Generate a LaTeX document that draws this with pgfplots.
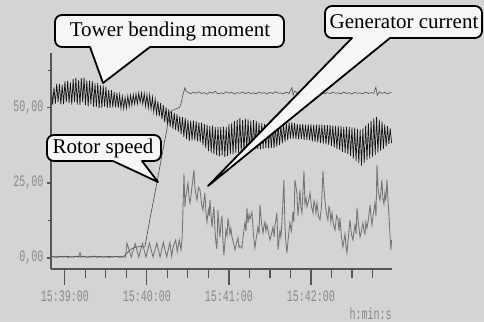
\documentclass[border=0pt]{standalone}
\usepackage{pgfplots}
\pgfplotsset{compat=1.18}
\usepackage{graphicx}
\usepackage{fontspec}
\setmainfont{Liberation Serif}
\newfontfamily\monofont{Liberation Mono}
\definecolor{bg}{HTML}{D4D4D4}
\definecolor{axc}{HTML}{555555}
\definecolor{labc}{HTML}{8A8A8A}
\definecolor{gen}{HTML}{747474}
\definecolor{rot}{HTML}{4E4E4E}
\definecolor{tow}{HTML}{151515}
\definecolor{callfill}{HTML}{F6F6F6}
\newcommand{\tl}[1]{\scalebox{1}[1.6]{#1}}
\begin{document}
\begin{tikzpicture}
\path[use as bounding box] (0,0) rectangle (484pt,322pt);
\fill[bg] (0,0) rectangle (484pt,322pt);
\begin{axis}[
  at={(51pt,53pt)}, anchor=south west,
  scale only axis, width=341pt, height=216pt,
  xmin=-10.2, xmax=239.3, ymin=-3.67, ymax=68.3,
  axis x line=bottom, axis y line=left,
  axis line style={-, draw=axc, line width=1.1pt},
  tick align=outside,
  xtick={0,60,120,180},
  xticklabels={\tl{15:39:00},\tl{15:40:00},\tl{15:41:00},\tl{15:42:00}},
  minor xtick={15,30,45,75,90,105,135,150,165,195,210,225},
  ytick=\empty,
  major tick length=16pt, minor tick length=9pt,
  tick style={draw=axc, line width=1.1pt},
  xticklabel style={font=\monofont\fontsize{10}{12}\selectfont, text=labc, yshift=-2pt},
  clip=false,
]
% Tower bending moment
\addplot[tow, line width=0.7pt] coordinates {
(-10,57.3) (-9,51.1) (-8,56.8) (-7,51.4) (-6,58.1) (-5,51.9) (-4,58.0) (-3,51.2) (-2,57.6) (-1,51.3)
(0,58.8) (1,51.9) (2,59.1) (3,51.5) (4,58.4) (5,51.1) (6,59.6) (7,51.9) (8,60.0) (9,51.1)
(10,59.2) (11,51.0) (12,59.9) (13,51.9) (14,60.1) (15,50.9) (16,59.1) (17,50.5) (18,59.1) (19,51.2)
(20,59.0) (21,50.3) (22,58.2) (23,50.4) (24,58.3) (25,49.9) (26,57.5) (27,50.1) (28,57.5) (29,50.4)
(30,57.0) (31,50.0) (32,56.0) (33,50.0) (34,55.9) (35,50.2) (36,55.3) (37,50.2) (38,55.0) (39,50.0)
(40,54.4) (41,49.9) (42,53.8) (43,49.8) (44,53.5) (45,50.0) (46,54.0) (47,50.5) (48,54.2) (49,50.9)
(50,54.4) (51,51.3) (52,54.6) (53,51.4) (54,54.9) (55,51.8) (56,55.0) (57,51.3) (58,54.8) (59,50.6)
(60,54.4) (61,50.1) (62,54.3) (63,49.6) (64,53.6) (65,48.7) (66,52.9) (67,48.0) (68,52.2) (69,47.2)
(70,51.6) (71,46.2) (72,50.9) (73,45.3) (74,50.2) (75,44.4) (76,49.5) (77,43.7) (78,48.8) (79,43.1)
(80,48.3) (81,42.7) (82,47.9) (83,42.1) (84,47.2) (85,41.3) (86,46.9) (87,40.4) (88,46.6) (89,39.6)
(90,46.0) (91,39.0) (92,45.8) (93,39.2) (94,45.8) (95,39.2) (96,45.5) (97,38.9) (98,45.1) (99,38.6)
(100,45.1) (101,37.5) (102,44.6) (103,36.6) (104,44.4) (105,35.6) (106,43.9) (107,35.1) (108,44.1) (109,34.6)
(110,43.6) (111,34.2) (112,43.7) (113,33.9) (114,43.6) (115,34.2) (116,43.8) (117,33.7) (118,43.6) (119,34.0)
(120,44.6) (121,34.5) (122,44.9) (123,34.5) (124,45.6) (125,35.1) (126,46.0) (127,35.1) (128,46.6) (129,35.5)
(130,45.9) (131,35.4) (132,46.4) (133,35.9) (134,46.2) (135,35.9) (136,45.8) (137,35.8) (138,45.9) (139,36.3)
(140,45.7) (141,36.4) (142,45.1) (143,36.2) (144,44.9) (145,36.4) (146,44.7) (147,36.7) (148,44.3) (149,36.5)
(150,44.0) (151,36.6) (152,43.8) (153,36.6) (154,43.6) (155,37.1) (156,44.1) (157,37.6) (158,44.3) (159,38.2)
(160,44.5) (161,38.7) (162,44.8) (163,39.2) (164,45.1) (165,39.8) (166,45.2) (167,39.8) (168,45.0) (169,39.7)
(170,44.7) (171,39.5) (172,44.7) (173,39.7) (174,44.7) (175,39.4) (176,44.4) (177,39.4) (178,44.5) (179,39.3)
(180,44.5) (181,38.9) (182,44.4) (183,38.7) (184,44.4) (185,38.5) (186,44.4) (187,38.3) (188,44.4) (189,38.1)
(190,44.3) (191,37.9) (192,44.3) (193,37.7) (194,44.3) (195,37.4) (196,44.1) (197,36.9) (198,44.0) (199,36.4)
(200,43.9) (201,36.0) (202,43.9) (203,35.4) (204,43.7) (205,35.0) (206,43.8) (207,34.6) (208,43.7) (209,34.0)
(210,43.5) (211,33.1) (212,43.4) (213,32.3) (214,43.0) (215,31.6) (216,42.8) (217,30.8) (218,43.2) (219,31.7)
(220,44.1) (221,32.6) (222,44.9) (223,33.2) (224,45.7) (225,33.8) (226,46.5) (227,34.4) (228,47.0) (229,35.1)
(230,46.1) (231,35.7) (232,45.5) (233,36.4) (234,44.5) (235,37.2) (236,43.9) (237,38.0) (238,43.2) (239,38.3)
};
% Generator current
\addplot[gen, line width=0.85pt] coordinates {
(-10,0.3) (-8,0.5) (-6,0.2) (-4,0.4) (-2,0.3) (0,0.6) (2,0.2) (4,0.4) (6,0.3) (8,0.5)
(10,0.3) (11,1.8) (12,0.3) (14,0.5) (16,0.2) (18,0.4) (20,0.3) (22,0.6) (24,0.2) (26,0.4)
(28,0.3) (30,0.5) (32,0.2) (34,0.4) (36,0.3) (38,0.5) (40,0.2) (42,0.4) (44.3,0.3)
(45.4,5.0) (48.5,0.3) (51.4,4.8) (54,0.3) (56.7,4.8) (59.3,0.3) (61.8,4.9) (64.5,0.3)
(67.2,5.0) (69.6,0.3) (72.0,5.2) (74.4,0.3) (76.8,5.2) (78.1,0.5)
(79.2,3.8) (81.0,6) (82.2,2.1) (83.6,6) (84.9,2.7) (85.8,7.1) (87.1,28.2) (87.8,17) (88.4,20.5) (89,22)
(90.0,25) (90.8,20) (91.5,18.3) (92.3,21) (93,24) (94.4,29.3) (95.0,24) (95.5,22) (96.6,19.3) (97.7,23.5) (98.8,22.7) (100,18) (101.0,16)
(101.7,19) (102.4,21.7) (103.2,15) (103.9,12) (105,16) (105.6,14) (106.1,19.3) (107.6,10.3) (108.3,14) (109.0,17) (109.8,9) (110.5,5) (111.2,3)
(111.9,16) (112.6,11) (113.4,7) (114.2,12) (114.9,14) (115.6,6) (116.3,1) (117.8,9.3) (118.6,7.5) (119.3,13.3) (120.7,8) (121.4,10) (122.2,7)
(123.3,5) (124.4,2.7) (125.5,5) (126.6,6.7) (127.3,3.5) (128.0,4) (129.5,3.3) (130.6,8) (131.7,11.7) (132.5,9) (133.2,16.7) (133.9,11.7) (134.7,14.5) (135.4,13)
(136.8,15.3) (137.9,8) (139.0,3.3) (140.1,7) (141.2,10.3) (142.0,8) (142.7,17.7) (143.8,12) (144.9,8.3) (145.6,10.5) (146.3,12) (147.0,9) (147.8,11) (148.9,8.5) (150.0,6)
(151.1,8) (152.2,10.3) (153.0,7) (153.7,11) (155.1,15) (155.9,2.7) (156.6,6) (157.3,9) (158.0,7) (158.8,12) (160.2,26) (161.0,10.3) (161.7,5) (162.4,1.7)
(163.5,7) (164.6,11.7) (165.7,9) (166.8,15.3) (167.5,12) (168.3,26) (169.7,21.7) (170.5,14) (171.2,18) (171.9,22.7) (172.6,17) (173.4,15) (174.9,29)
(175.6,18) (176.4,20) (177.1,17) (178.2,19) (179.3,21.7) (180.4,17) (181.5,15) (182.2,19) (182.9,18) (183.7,15) (184.4,18.3) (185.5,14) (186.6,12.7) (187.7,17) (188.8,29)
(189.5,23) (190.2,19.3) (191.3,15) (192.4,12.7) (193.1,17) (193.9,16) (194.6,12) (195.4,15) (196.5,11) (197.6,9.3) (198.7,14) (199.8,13) (200.5,9) (201.2,13.3) (202.3,7) (203.4,3.7)
(204.2,6) (204.9,8) (205.6,4) (206.3,1.7) (207.4,7) (208.5,12.7) (209.6,8) (210.7,6) (211.5,9) (212.2,11) (213.0,8) (213.7,16.7) (214.8,11) (215.9,7) (217.0,9) (218.0,11.7)
(218.8,9) (219.5,8) (220.2,12) (221.0,10) (222.1,13) (223.2,17.7) (223.9,14) (224.6,11) (225.7,15) (226.8,18.3) (227.6,14) (228.3,31) (229.0,24) (229.7,21) (230.5,19.3)
(231.2,22) (231.9,26) (232.6,20) (233.4,18) (234.1,21.7) (234.8,19) (235.6,26) (236.3,20) (237.1,13.7) (237.8,8) (238.5,2.7) (239,6)
};
% Rotor speed
\addplot[rot, line width=0.6pt] coordinates {
(-10,0.5) (-7,0.3) (-4,0.6) (-1,0.4) (2,0.5) (5,0.3) (8,0.6) (11,0.4) (14,0.5) (17,0.3)
(20,0.6) (23,0.4) (26,0.5) (29,0.3) (32,0.5) (35,0.4) (38,0.5) (41,0.4) (43,0.6) (45,1.4)
(47,2.4) (49,3.1) (51,3.5) (54,3.8) (57,3.7) (58.5,3.7) (62,12.5) (66,22) (70,31.8) (74,41.5)
(76.8,48.3) (78,49.0) (80,49.5) (82,49.8) (84,50.3) (85,51.5) (86,53.7) (87,55.5) (87.8,56.8) (88.5,55.6)
(90,55.2) (92,54.7) (94,55.3) (96,54.9) (98,55.4) (100,54.8) (102,55.1) (104,54.6) (106,55.3) (108,54.9)
(110,55.5) (112,54.7) (114,55.0) (116,54.8) (118,55.4) (120,54.9) (122,55.2) (124,54.6) (126,55.1) (128,54.9)
(130,55.3) (132,54.7) (134,55.2) (136,54.8) (138,55.0) (140,54.7) (142,55.3) (144,54.9) (146,55.1) (148,54.6)
(150,55.2) (152,54.8) (154,55.4) (156,54.9) (158,55.0) (160,54.7) (162,55.3) (164,54.8) (166,56.8) (167,54.3)
(168,55.6) (170,54.9) (172,55.2) (174,54.7) (176,55.1) (178,54.8) (180,55.3) (182,54.6) (184,55.0) (186,54.9)
(188,55.4) (190,54.7) (192,55.1) (194,54.8) (196,55.2) (198,54.9) (200,55.0) (202,54.7) (204,55.3) (206,54.8)
(208,55.1) (210,54.6) (212,55.2) (214,54.9) (216,55.0) (218,54.7) (220,55.3) (222,54.8) (224,55.1) (226,54.9)
(227.5,56.9) (228.5,54.2) (230,55.4) (232,54.8) (234,55.2) (236,54.7) (238,55.1) (239,55.0)
};
\end{axis}
\begin{axis}[
  at={(51pt,53pt)}, anchor=south west,
  scale only axis, width=341pt, height=216pt,
  xmin=-10.2, xmax=239.3, ymin=-3.67, ymax=68.3,
  axis x line=none, axis y line=left,
  axis line style={-, draw=axc, line width=1.1pt},
  tick align=outside,
  xtick=\empty,
  ytick={0,25,50},
  yticklabels={{\tl{0,00}},{\tl{25,00}},{\tl{50,00}}},
  minor ytick={12.5,37.5,62.5},
  major tick length=4pt, minor tick length=3pt,
  tick style={draw=axc, line width=1.1pt},
  yticklabel style={font=\monofont\fontsize{10}{12}\selectfont, text=labc},
]
\end{axis}
\node[font=\monofont\fontsize{10}{12}\selectfont, text=labc] at (370.5pt,8pt) {\tl{h:min:s}};
\begin{scope}[line width=1.8pt, line join=round]
\draw[fill=callfill] (90pt,275pt) [rounded corners=7pt] -- (55pt,275pt) -- (55pt,307pt) -- (284pt,307pt) -- (284pt,275pt) [sharp corners] -- (150pt,275pt) -- (103pt,239pt) -- cycle;
\node[font=\rmfamily\fontsize{21}{24}\selectfont] at (170pt,291pt) {Tower bending moment};
\draw[fill=callfill] (352pt,284pt) [rounded corners=7pt] -- (325pt,284pt) -- (325pt,316pt) -- (482pt,316pt) -- (482pt,284pt) [sharp corners] -- (390pt,284pt) -- (208pt,136pt) -- cycle;
\node[font=\rmfamily\fontsize{21}{24}\selectfont] at (404pt,300pt) {Generator current};
\draw[fill=callfill] (113pt,161pt) [rounded corners=7pt] -- (47pt,161pt) -- (47pt,187pt) -- (161pt,187pt) -- (161pt,161pt) [sharp corners] -- (142pt,161pt) -- (158pt,140pt) -- cycle;
\node[font=\rmfamily\fontsize{21}{24}\selectfont] at (103pt,174pt) {Rotor speed};
\end{scope}
\end{tikzpicture}
\end{document}
